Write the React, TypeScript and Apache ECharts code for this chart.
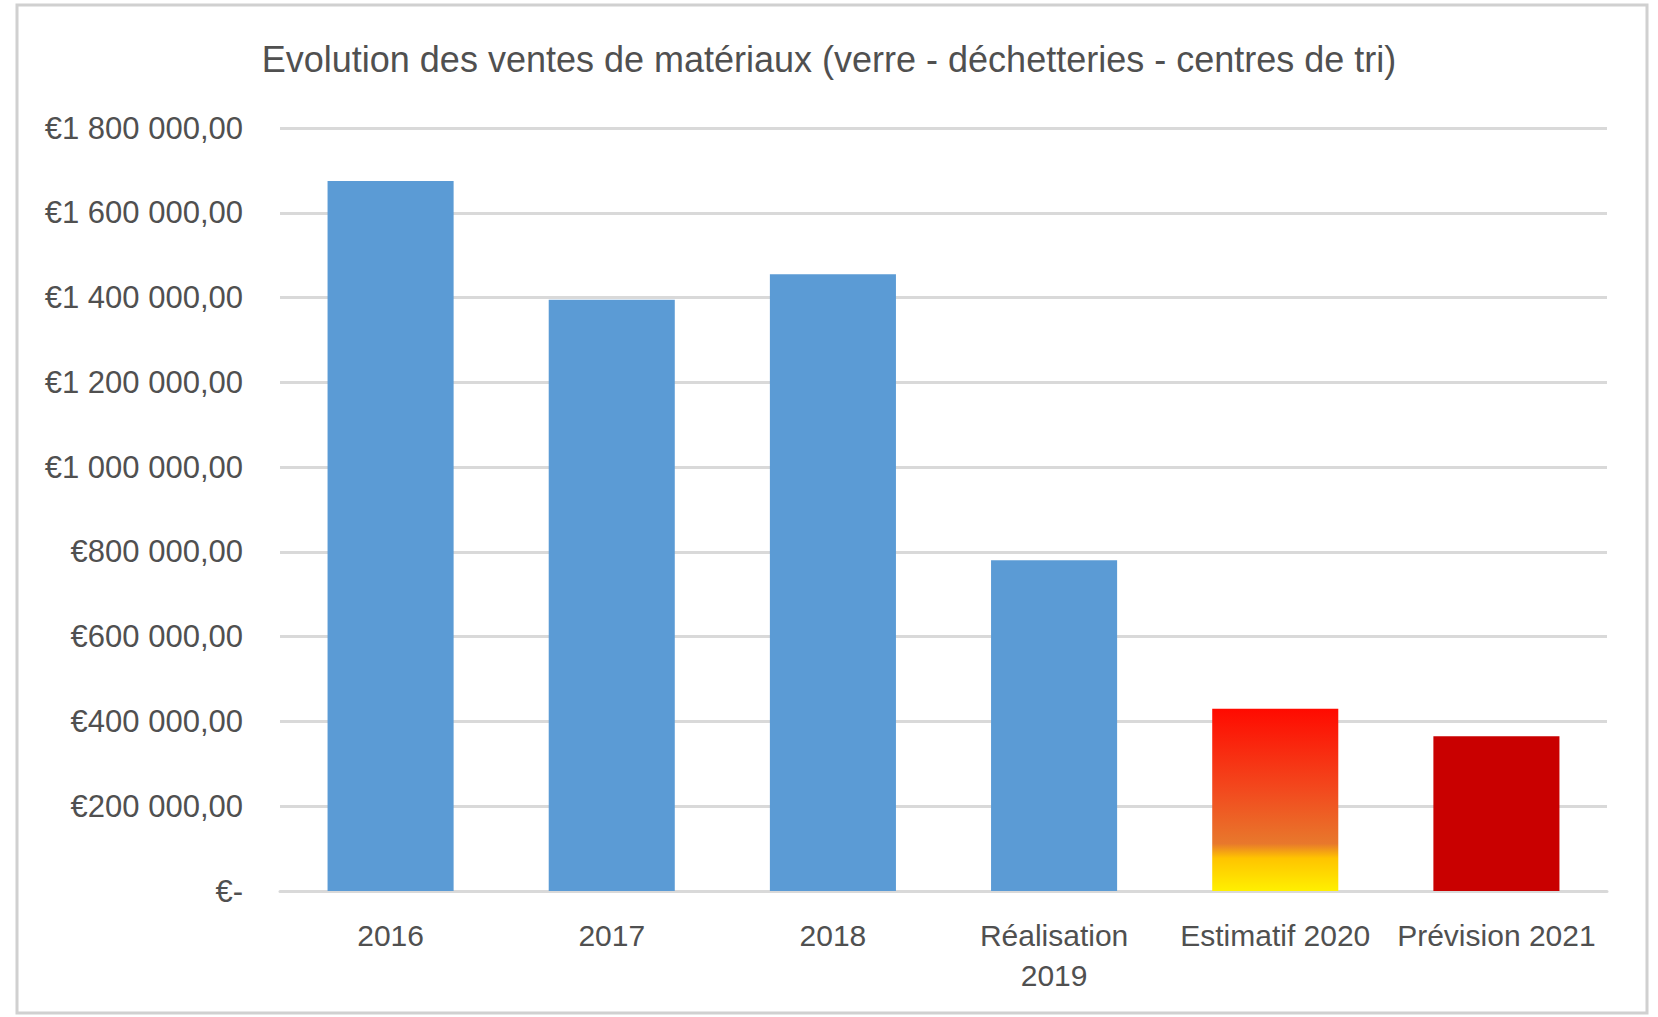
import React, { useEffect, useRef } from "react";
import * as echarts from "echarts";

const title = "Evolution des ventes de matériaux (verre - déchetteries - centres de tri)";
const categories = ["2016", "2017", "2018", "Réalisation\n2019", "Estimatif 2020", "Prévision 2021"];
const values = [1675000, 1395000, 1455000, 780000, 430000, 365000];
const yMin = 0;
const yMax = 1800000;
const yStep = 200000;

const FONT = "'Liberation Sans', Arial, sans-serif";
const TEXT = "#505050";

function fmtEuro(v: number): string {
  if (v === 0) return "€-";
  const s = Math.round(v).toString().replace(/\B(?=(\d{3})+(?!\d))/g, " ");
  return "€" + s + ",00";
}

const barColors: any[] = [
  "#5b9bd5",
  "#5b9bd5",
  "#5b9bd5",
  "#5b9bd5",
  new echarts.graphic.LinearGradient(0, 0, 0, 1, [
    { offset: 0, color: "#ff0a00" },
    { offset: 0.45, color: "#f24a1e" },
    { offset: 0.74, color: "#e8782c" },
    { offset: 0.82, color: "#ffc400" },
    { offset: 1, color: "#fff000" },
  ]),
  "#c90000",
];

export default function App() {
  const ref = useRef<HTMLDivElement>(null);
  useEffect(() => {
    if (!ref.current) return;
    const chart = echarts.init(ref.current, null, { renderer: "svg" });
    chart.setOption({
      animation: false,
      backgroundColor: "#ffffff",
      title: {
        text: title,
        left: "center",
        top: 36,
        textStyle: { fontFamily: FONT, fontSize: 36, fontWeight: "normal", color: TEXT },
      },
      graphic: [
        {
          type: "rect",
          shape: { x: 17, y: 5, width: 1630, height: 1008 },
          style: { fill: "none", stroke: "#d0d0d0", lineWidth: 3 },
          silent: true,
        },
      ],
      grid: { left: 280, right: 51, top: 128, bottom: 126 },
      xAxis: {
        type: "category",
        data: categories,
        axisLine: { show: true, lineStyle: { color: "#d9d9d9", width: 3 } },
        axisTick: { show: false },
        axisLabel: {
          fontFamily: FONT,
          fontSize: 30,
          color: TEXT,
          margin: 24,
          lineHeight: 40,
          interval: 0,
        },
      },
      yAxis: {
        type: "value",
        min: yMin,
        max: yMax,
        interval: yStep,
        axisLine: { show: false },
        axisTick: { show: false },
        splitLine: { lineStyle: { color: "#d9d9d9", width: 3 } },
        axisLabel: {
          fontFamily: FONT,
          fontSize: 31,
          color: TEXT,
          margin: 37,
          formatter: (v: number) => fmtEuro(v),
        },
      },
      series: [
        {
          type: "bar",
          barWidth: "57%",
          data: values.map((v, i) => ({ value: v, itemStyle: { color: barColors[i] } })),
        },
      ],
    });
    return () => chart.dispose();
  }, []);
  return (
    <div
      ref={ref}
      style={{ position: "absolute", left: 0, top: 0, width: 1658, height: 1017 }}
    />
  );
}
